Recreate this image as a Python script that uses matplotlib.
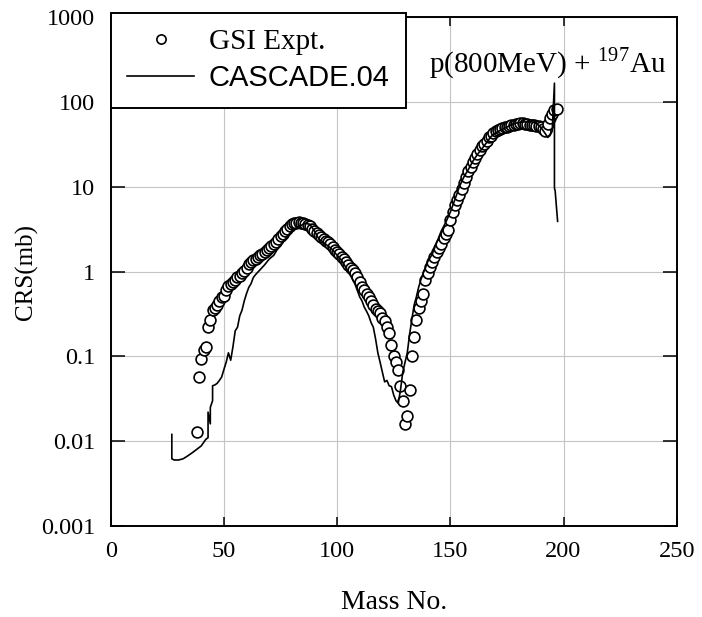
import numpy as np
import matplotlib
matplotlib.use("Agg")
import matplotlib.pyplot as plt

plt.rcParams['mathtext.fontset'] = 'custom'
plt.rcParams['mathtext.rm'] = 'Liberation Serif'

# GSI experimental data (mass number, cross section in mb)
gsi_mass = list(range(38, 198))
gsi_crs = [
    0.013, 0.057, 0.094, 0.118, 0.13, 0.22, 0.27, 0.35, 0.37, 0.40,
    0.45, 0.50, 0.52, 0.60, 0.68, 0.72, 0.75, 0.80, 0.85, 0.88,
    0.95, 1.02, 1.10, 1.22, 1.30, 1.37, 1.42, 1.50, 1.55, 1.62,
    1.70, 1.80, 1.90, 2.0, 2.1, 2.25, 2.4, 2.6, 2.8, 3.0,
    3.2, 3.4, 3.6, 3.7, 3.75, 3.8, 3.75, 3.7, 3.6, 3.5,
    3.4, 3.2, 3.0, 2.85, 2.7, 2.55, 2.4, 2.3, 2.2, 2.1,
    1.95, 1.8, 1.7, 1.6, 1.5, 1.4, 1.3, 1.2, 1.1, 1.04,
    0.95, 0.85, 0.75, 0.66, 0.60, 0.55, 0.50, 0.45, 0.40, 0.36,
    0.34, 0.32, 0.28, 0.26, 0.22, 0.19, 0.135, 0.10, 0.085, 0.069,
    0.045, 0.03, 0.016, 0.02, 0.04, 0.10, 0.17, 0.27, 0.37, 0.45,
    0.55, 0.79, 0.95, 1.13, 1.3, 1.5, 1.7, 1.9, 2.1, 2.5,
    2.8, 3.1, 4.0, 5.0, 6.0, 7.0, 8.0, 9.5, 11, 13,
    15.5, 17, 19.5, 22, 24, 27, 30, 32, 35, 38,
    40, 43, 45, 47, 48, 49, 50, 51, 52, 53,
    54, 55, 55, 56, 56, 55, 55, 54, 54, 53,
    52, 52, 51, 48, 45, 55, 65, 72, 80, 83,
]

# CASCADE.04 calculation
cas_mass = [
    27, 27, 28, 30, 32, 34, 36, 38, 40, 42, 43, 43, 44, 44, 45, 45,
    46, 47, 48, 49, 50, 51, 52, 53, 54, 55, 56, 57, 58, 59, 60, 61,
    62, 63, 64, 66, 68, 70, 72, 74, 76, 78, 80, 82, 84, 86, 88, 90,
    92, 94, 96, 98, 100, 102, 104, 106, 108, 110, 111, 112, 113, 114,
    115, 116, 117, 118, 119, 120, 121, 122, 123, 124, 125, 126, 127,
    128, 129, 130, 131, 132, 133, 134, 135, 136, 137, 138, 139, 140,
    142, 144, 146, 148, 150, 152, 154, 156, 158, 160, 162, 164, 166,
    168, 170, 172, 174, 176, 178, 180, 182, 184, 186, 188, 190, 192,
    193, 194, 195, 196, 196, 196.3, 197.4,
]
cas_crs = [
    0.012, 0.0062, 0.006, 0.006, 0.0062, 0.0067, 0.0073, 0.008, 0.0088,
    0.0105, 0.011, 0.022, 0.016, 0.025, 0.03, 0.045,
    0.046, 0.048, 0.052, 0.057, 0.07, 0.085, 0.11, 0.09, 0.13, 0.2,
    0.22, 0.3, 0.35, 0.45, 0.55, 0.65,
    0.72, 0.85, 0.92, 1.05, 1.2, 1.4, 1.55, 1.9, 2.2, 2.6, 3.0, 3.3,
    3.5, 3.7, 3.6, 3.0,
    2.4, 2.2, 2.0, 1.8, 1.55, 1.35, 1.1, 0.9, 0.7, 0.5, 0.45, 0.38,
    0.34, 0.3,
    0.25, 0.22, 0.16, 0.11, 0.085, 0.065, 0.05, 0.052, 0.045, 0.044,
    0.035, 0.03, 0.028,
    0.04, 0.065, 0.085, 0.11, 0.18, 0.27, 0.4, 0.5, 0.65, 0.8, 0.95,
    1.1, 1.3,
    1.6, 2.2, 3.0, 3.8, 5.0, 7.0, 10, 13, 16, 20, 24, 28, 33,
    39, 43, 46, 49, 52, 55, 57, 58, 58, 58, 56, 50, 42,
    38, 40, 45, 166, 9.6, 9.0, 3.9,
]

x_ticks = [0, 50, 100, 150, 200, 250]
y_ticks = [0.001, 0.01, 0.1, 1, 10, 100, 1000]
y_tick_labels = ['0.001', '0.01', '0.1', '1', '10', '100', '1000']

serif = 'Liberation Serif'

fig = plt.figure(figsize=(7.02, 6.17), dpi=100)
ax = fig.add_axes([110.7 / 702, 1 - 526 / 617, 566 / 702, 509 / 617])

ax.plot(gsi_mass, gsi_crs, 'o', ms=7.8, mfc='white', mec='black', mew=1.2,
        label='GSI Expt.', zorder=3)
ax.plot(cas_mass, cas_crs, '-', color='black', lw=1.2,
        label='CASCADE.04', zorder=4)

ax.set_yscale('log')
ax.set_xlim(0, 250)
ax.set_ylim(0.001, 1000)
ax.set_xticks(x_ticks)
ax.set_yticks(y_ticks)
ax.set_yticklabels(y_tick_labels)
ax.minorticks_off()
ax.grid(True, color='#c4c4c4', lw=0.8)
ax.set_axisbelow(True)

ax.tick_params(axis='both', direction='in', top=True, right=True,
               width=1.1, labelsize=17.5, color='black')
ax.tick_params(axis='x', length=6.5, pad=11)
ax.tick_params(axis='y', length=10, pad=11)
for lab in ax.get_xticklabels() + ax.get_yticklabels():
    lab.set_family(serif)
for sp in ax.spines.values():
    sp.set_linewidth(1.4)

ax.set_xlabel('Mass No.', family=serif, fontsize=20, labelpad=20)
ax.set_ylabel('CRS(mb)', family=serif, fontsize=18, labelpad=2)

leg = ax.legend(loc='upper left', bbox_to_anchor=(111 / 702, 1 - 13 / 617),
                bbox_transform=fig.transFigure, borderaxespad=0,
                fancybox=False, framealpha=1, edgecolor='black',
                fontsize=21, handlelength=2.3, handletextpad=0.5,
                borderpad=0.55, labelspacing=0.3, markerscale=0.85)
leg.get_frame().set_linewidth(1.4)
leg.set_zorder(10)
txts = leg.get_texts()
txts[0].set_family(serif)
txts[1].set_family('Liberation Sans')

fig.text(666 / 702, 1 - 72 / 617, r'p(800MeV) + $^{197}$Au', family=serif,
         fontsize=21, ha='right', va='baseline')

fig.savefig('out.png', dpi=100)
